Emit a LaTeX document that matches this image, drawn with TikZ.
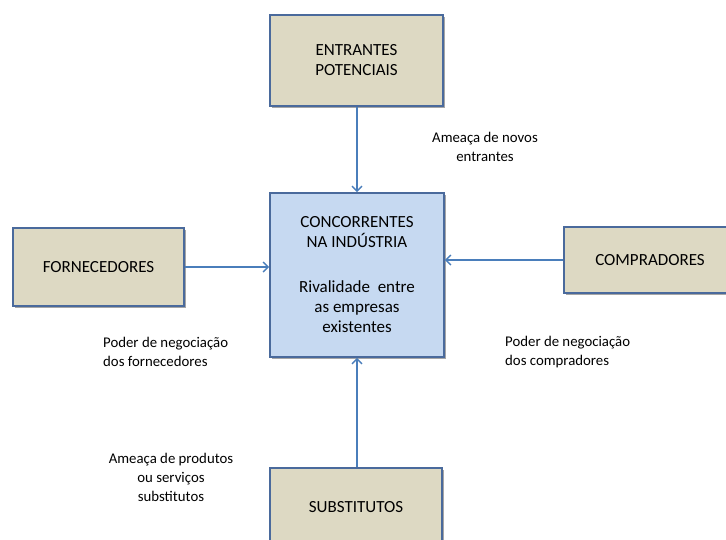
\documentclass[tikz,border=0pt]{standalone}
\usepackage{fontspec}
\setmainfont{Carlito}
\usetikzlibrary{arrows.meta,shadows}
\definecolor{boxtan}{HTML}{DDD9C3}
\definecolor{boxblue}{HTML}{C6D9F1}
\definecolor{edgeblue}{HTML}{4A6A9C}
\definecolor{arrowblue}{HTML}{4A7EBB}
\tikzset{
  force/.style={draw=edgeblue, line width=1.6pt, fill=boxtan, align=center,
    inner sep=0pt, font=\fontsize{17}{20}\selectfont,
    drop shadow={shadow xshift=2pt, shadow yshift=-2pt, fill=black, opacity=0.35}},
  centre/.style={force, fill=boxblue},
  push/.style={draw=arrowblue, line width=1.4pt,
    -{Straight Barb[length=5pt,width=10pt,line width=1.4pt]}},
  note/.style={font=\fontsize{14.8}{19}\selectfont, inner sep=0pt}
}
\begin{document}
\begin{tikzpicture}[x=1pt,y=-1pt]
\useasboundingbox (0,0) rectangle (726,539);
\clip (0,0) rectangle (726,539);

% the five forces
\node[force, minimum width=173pt, minimum height=91pt] (ent) at (356.5,60.5)
  {ENTRANTES\\POTENCIAIS};
\node[centre, minimum width=174pt, minimum height=164pt] (conc) at (357,275)
  {CONCORRENTES\\NA INDÚSTRIA\\[25pt]Rivalidade~ entre\\as empresas\\existentes};
\node[force, minimum width=171pt, minimum height=78pt] (forn) at (98.5,267)
  {FORNECEDORES};
\node[force, minimum width=172pt, minimum height=66pt] (comp) at (650,260)
  {COMPRADORES};
\node[force, minimum width=172pt, minimum height=78pt] (subs) at (356,507)
  {SUBSTITUTOS};

% pressures on the industry
\draw[push] (ent.south -| conc.north) -- (conc.north);
\draw[push] (forn.east) -- (forn.east -| conc.west);
\draw[push] (comp.west) -- (comp.west -| conc.east);
\draw[push] (subs.north -| conc.south) -- (conc.south);

% labels
\node[note, align=center] (l1) at (485,147) {Ameaça de novos\\entrantes};
\node[note, align=left, anchor=west] (l2) at (103,352)
  {Poder de negociação\\dos fornecedores};
\node[note, align=left, anchor=west] (l3) at (505,352)
  {Poder de negociação\\dos compradores};
\node[note, align=center] (l4) at (171,477)
  {Ameaça de produtos\\ou serviços\\substitutos};
\end{tikzpicture}
\end{document}
